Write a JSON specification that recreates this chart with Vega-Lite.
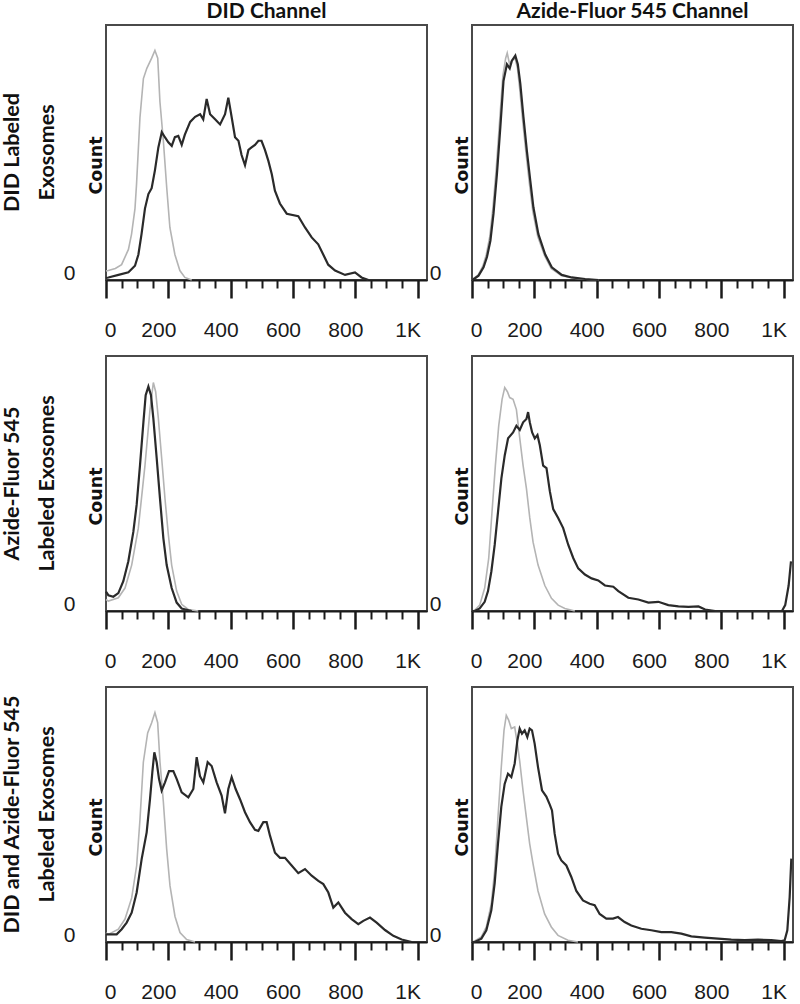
{
  "$schema": "https://vega.github.io/schema/vega-lite/v6.json",
  "padding": {"left": 1, "top": 1, "right": 0, "bottom": 0},
  "background": "white",
  "data": {"values": [
    {"r":"A","c":"D","s":"g","x":0,"y":3.5},{"r":"A","c":"D","s":"g","x":7.5,"y":3.7},{"r":"A","c":"D","s":"g","x":30,"y":4.5},{"r":"A","c":"D","s":"g","x":50,"y":6},{"r":"A","c":"D","s":"g","x":72,"y":12},{"r":"A","c":"D","s":"g","x":82,"y":18},{"r":"A","c":"D","s":"g","x":93,"y":28},{"r":"A","c":"D","s":"g","x":98,"y":37.6},{"r":"A","c":"D","s":"g","x":109,"y":63.7},{"r":"A","c":"D","s":"g","x":120,"y":79},{"r":"A","c":"D","s":"g","x":131,"y":83},{"r":"A","c":"D","s":"g","x":146.5,"y":87},{"r":"A","c":"D","s":"g","x":157,"y":90},{"r":"A","c":"D","s":"g","x":166,"y":87},{"r":"A","c":"D","s":"g","x":173,"y":70},{"r":"A","c":"D","s":"g","x":184,"y":54.6},{"r":"A","c":"D","s":"g","x":195,"y":36},{"r":"A","c":"D","s":"g","x":205,"y":20.6},{"r":"A","c":"D","s":"g","x":221,"y":10},{"r":"A","c":"D","s":"g","x":237,"y":3.7},{"r":"A","c":"D","s":"g","x":253,"y":1},{"r":"A","c":"D","s":"g","x":275,"y":0},
    {"r":"A","c":"D","s":"k","x":0,"y":0.8},{"r":"A","c":"D","s":"k","x":7.5,"y":1},{"r":"A","c":"D","s":"k","x":40,"y":2},{"r":"A","c":"D","s":"k","x":72,"y":3},{"r":"A","c":"D","s":"k","x":93,"y":5.6},{"r":"A","c":"D","s":"k","x":104,"y":10},{"r":"A","c":"D","s":"k","x":114,"y":18},{"r":"A","c":"D","s":"k","x":125,"y":28},{"r":"A","c":"D","s":"k","x":136,"y":33.7},{"r":"A","c":"D","s":"k","x":146.5,"y":36},{"r":"A","c":"D","s":"k","x":157,"y":43},{"r":"A","c":"D","s":"k","x":168,"y":52},{"r":"A","c":"D","s":"k","x":179,"y":58},{"r":"A","c":"D","s":"k","x":189,"y":56},{"r":"A","c":"D","s":"k","x":200,"y":54},{"r":"A","c":"D","s":"k","x":211,"y":52.6},{"r":"A","c":"D","s":"k","x":221,"y":56},{"r":"A","c":"D","s":"k","x":232,"y":56.5},{"r":"A","c":"D","s":"k","x":243,"y":53},{"r":"A","c":"D","s":"k","x":253,"y":57},{"r":"A","c":"D","s":"k","x":270,"y":62},{"r":"A","c":"D","s":"k","x":286,"y":64},{"r":"A","c":"D","s":"k","x":302,"y":65},{"r":"A","c":"D","s":"k","x":312,"y":63},{"r":"A","c":"D","s":"k","x":323,"y":71},{"r":"A","c":"D","s":"k","x":334,"y":65},{"r":"A","c":"D","s":"k","x":350,"y":63},{"r":"A","c":"D","s":"k","x":366,"y":61},{"r":"A","c":"D","s":"k","x":382,"y":65},{"r":"A","c":"D","s":"k","x":392.5,"y":71.5},{"r":"A","c":"D","s":"k","x":403,"y":64},{"r":"A","c":"D","s":"k","x":414,"y":56},{"r":"A","c":"D","s":"k","x":425,"y":54.6},{"r":"A","c":"D","s":"k","x":435,"y":49},{"r":"A","c":"D","s":"k","x":446,"y":45},{"r":"A","c":"D","s":"k","x":457,"y":51},{"r":"A","c":"D","s":"k","x":467,"y":52},{"r":"A","c":"D","s":"k","x":478,"y":53},{"r":"A","c":"D","s":"k","x":489,"y":54.6},{"r":"A","c":"D","s":"k","x":499,"y":54.6},{"r":"A","c":"D","s":"k","x":510,"y":51},{"r":"A","c":"D","s":"k","x":521,"y":46.7},{"r":"A","c":"D","s":"k","x":532,"y":41.5},{"r":"A","c":"D","s":"k","x":542,"y":35},{"r":"A","c":"D","s":"k","x":558,"y":30},{"r":"A","c":"D","s":"k","x":580,"y":26},{"r":"A","c":"D","s":"k","x":617,"y":25},{"r":"A","c":"D","s":"k","x":638.5,"y":20.6},{"r":"A","c":"D","s":"k","x":660,"y":16.7},{"r":"A","c":"D","s":"k","x":681,"y":14},{"r":"A","c":"D","s":"k","x":697,"y":10},{"r":"A","c":"D","s":"k","x":713,"y":6},{"r":"A","c":"D","s":"k","x":735,"y":3.7},{"r":"A","c":"D","s":"k","x":767,"y":2},{"r":"A","c":"D","s":"k","x":799,"y":3},{"r":"A","c":"D","s":"k","x":820,"y":1},{"r":"A","c":"D","s":"k","x":842,"y":0},
    {"r":"A","c":"F","s":"g","x":0,"y":0},{"r":"A","c":"F","s":"g","x":10,"y":1},{"r":"A","c":"F","s":"g","x":20,"y":2},{"r":"A","c":"F","s":"g","x":35,"y":5.5},{"r":"A","c":"F","s":"g","x":46,"y":10},{"r":"A","c":"F","s":"g","x":57,"y":17},{"r":"A","c":"F","s":"g","x":67,"y":28},{"r":"A","c":"F","s":"g","x":78,"y":44},{"r":"A","c":"F","s":"g","x":89,"y":63},{"r":"A","c":"F","s":"g","x":99,"y":80},{"r":"A","c":"F","s":"g","x":108,"y":87},{"r":"A","c":"F","s":"g","x":113,"y":89},{"r":"A","c":"F","s":"g","x":120,"y":85},{"r":"A","c":"F","s":"g","x":128,"y":86},{"r":"A","c":"F","s":"g","x":138,"y":87},{"r":"A","c":"F","s":"g","x":146,"y":83},{"r":"A","c":"F","s":"g","x":153,"y":75},{"r":"A","c":"F","s":"g","x":163,"y":62},{"r":"A","c":"F","s":"g","x":174,"y":49},{"r":"A","c":"F","s":"g","x":185,"y":37},{"r":"A","c":"F","s":"g","x":195,"y":27},{"r":"A","c":"F","s":"g","x":211,"y":17},{"r":"A","c":"F","s":"g","x":233,"y":9.5},{"r":"A","c":"F","s":"g","x":254,"y":4.5},{"r":"A","c":"F","s":"g","x":286,"y":1.8},{"r":"A","c":"F","s":"g","x":320,"y":0.8},{"r":"A","c":"F","s":"g","x":363,"y":0.3},{"r":"A","c":"F","s":"g","x":406,"y":0},
    {"r":"A","c":"F","s":"k","x":0,"y":0},{"r":"A","c":"F","s":"k","x":10.7,"y":0.8},{"r":"A","c":"F","s":"k","x":21,"y":1.7},{"r":"A","c":"F","s":"k","x":37,"y":5},{"r":"A","c":"F","s":"k","x":48,"y":9},{"r":"A","c":"F","s":"k","x":59,"y":15.4},{"r":"A","c":"F","s":"k","x":69,"y":26},{"r":"A","c":"F","s":"k","x":80,"y":41.5},{"r":"A","c":"F","s":"k","x":91,"y":60},{"r":"A","c":"F","s":"k","x":101,"y":78},{"r":"A","c":"F","s":"k","x":112,"y":84.6},{"r":"A","c":"F","s":"k","x":121,"y":83},{"r":"A","c":"F","s":"k","x":128,"y":86},{"r":"A","c":"F","s":"k","x":139,"y":88},{"r":"A","c":"F","s":"k","x":147,"y":84.6},{"r":"A","c":"F","s":"k","x":155,"y":77},{"r":"A","c":"F","s":"k","x":165,"y":64},{"r":"A","c":"F","s":"k","x":176,"y":50.7},{"r":"A","c":"F","s":"k","x":187,"y":39},{"r":"A","c":"F","s":"k","x":197,"y":28.5},{"r":"A","c":"F","s":"k","x":213,"y":18},{"r":"A","c":"F","s":"k","x":235,"y":10},{"r":"A","c":"F","s":"k","x":256,"y":5},{"r":"A","c":"F","s":"k","x":288,"y":2},{"r":"A","c":"F","s":"k","x":320,"y":1},{"r":"A","c":"F","s":"k","x":363,"y":0.4},{"r":"A","c":"F","s":"k","x":406,"y":0},
    {"r":"B","c":"D","s":"g","x":0,"y":4.5},{"r":"B","c":"D","s":"g","x":7.5,"y":3.9},{"r":"B","c":"D","s":"g","x":39.6,"y":5.2},{"r":"B","c":"D","s":"g","x":61,"y":9},{"r":"B","c":"D","s":"g","x":82.4,"y":18},{"r":"B","c":"D","s":"g","x":103.7,"y":32.5},{"r":"B","c":"D","s":"g","x":125,"y":57},{"r":"B","c":"D","s":"g","x":141.2,"y":79},{"r":"B","c":"D","s":"g","x":151.9,"y":89.6},{"r":"B","c":"D","s":"g","x":159.4,"y":86},{"r":"B","c":"D","s":"g","x":168,"y":75.5},{"r":"B","c":"D","s":"g","x":178.6,"y":60},{"r":"B","c":"D","s":"g","x":189.3,"y":44},{"r":"B","c":"D","s":"g","x":200,"y":30},{"r":"B","c":"D","s":"g","x":210.7,"y":18},{"r":"B","c":"D","s":"g","x":226.7,"y":7.8},{"r":"B","c":"D","s":"g","x":242.8,"y":2.6},{"r":"B","c":"D","s":"g","x":264,"y":0.6},{"r":"B","c":"D","s":"g","x":296,"y":0},
    {"r":"B","c":"D","s":"k","x":0,"y":7.6},{"r":"B","c":"D","s":"k","x":7.5,"y":6.2},{"r":"B","c":"D","s":"k","x":23.5,"y":5.6},{"r":"B","c":"D","s":"k","x":39.6,"y":7},{"r":"B","c":"D","s":"k","x":55.6,"y":11.7},{"r":"B","c":"D","s":"k","x":71.7,"y":19.5},{"r":"B","c":"D","s":"k","x":87.7,"y":31},{"r":"B","c":"D","s":"k","x":98.4,"y":41.7},{"r":"B","c":"D","s":"k","x":109,"y":57},{"r":"B","c":"D","s":"k","x":120,"y":74},{"r":"B","c":"D","s":"k","x":127.3,"y":84.6},{"r":"B","c":"D","s":"k","x":136,"y":88},{"r":"B","c":"D","s":"k","x":144.4,"y":84.6},{"r":"B","c":"D","s":"k","x":151.9,"y":75.5},{"r":"B","c":"D","s":"k","x":162.6,"y":60},{"r":"B","c":"D","s":"k","x":173.3,"y":44},{"r":"B","c":"D","s":"k","x":184,"y":28.6},{"r":"B","c":"D","s":"k","x":194.7,"y":18},{"r":"B","c":"D","s":"k","x":210.7,"y":9},{"r":"B","c":"D","s":"k","x":226.7,"y":3.3},{"r":"B","c":"D","s":"k","x":242.8,"y":1},{"r":"B","c":"D","s":"k","x":275,"y":0},
    {"r":"B","c":"F","s":"g","x":0,"y":0},{"r":"B","c":"F","s":"g","x":8.6,"y":0.3},{"r":"B","c":"F","s":"g","x":24.7,"y":2.3},{"r":"B","c":"F","s":"g","x":40.7,"y":9},{"r":"B","c":"F","s":"g","x":53.6,"y":20.6},{"r":"B","c":"F","s":"g","x":64.3,"y":39},{"r":"B","c":"F","s":"g","x":75,"y":57},{"r":"B","c":"F","s":"g","x":85.7,"y":72.6},{"r":"B","c":"F","s":"g","x":96.5,"y":83},{"r":"B","c":"F","s":"g","x":105,"y":87.6},{"r":"B","c":"F","s":"g","x":113.6,"y":86},{"r":"B","c":"F","s":"g","x":121,"y":83.7},{"r":"B","c":"F","s":"g","x":131.8,"y":83},{"r":"B","c":"F","s":"g","x":142.5,"y":79},{"r":"B","c":"F","s":"g","x":153.3,"y":67.7},{"r":"B","c":"F","s":"g","x":164,"y":57},{"r":"B","c":"F","s":"g","x":174.7,"y":48},{"r":"B","c":"F","s":"g","x":185.4,"y":36.5},{"r":"B","c":"F","s":"g","x":196,"y":27},{"r":"B","c":"F","s":"g","x":212,"y":18},{"r":"B","c":"F","s":"g","x":233.7,"y":10},{"r":"B","c":"F","s":"g","x":255,"y":5},{"r":"B","c":"F","s":"g","x":276.5,"y":2.3},{"r":"B","c":"F","s":"g","x":298,"y":1},{"r":"B","c":"F","s":"g","x":330,"y":0},
    {"r":"B","c":"F","s":"k","x":0,"y":0},{"r":"B","c":"F","s":"k","x":8.6,"y":0},{"r":"B","c":"F","s":"k","x":24.7,"y":1},{"r":"B","c":"F","s":"k","x":40.7,"y":3.6},{"r":"B","c":"F","s":"k","x":51.4,"y":7.8},{"r":"B","c":"F","s":"k","x":62.2,"y":15.6},{"r":"B","c":"F","s":"k","x":72.9,"y":26},{"r":"B","c":"F","s":"k","x":83.6,"y":39},{"r":"B","c":"F","s":"k","x":94.3,"y":52},{"r":"B","c":"F","s":"k","x":105,"y":61},{"r":"B","c":"F","s":"k","x":115.8,"y":67.7},{"r":"B","c":"F","s":"k","x":131.8,"y":70},{"r":"B","c":"F","s":"k","x":142.5,"y":72.6},{"r":"B","c":"F","s":"k","x":153.3,"y":71},{"r":"B","c":"F","s":"k","x":164,"y":74},{"r":"B","c":"F","s":"k","x":174.7,"y":75.3},{"r":"B","c":"F","s":"k","x":180,"y":78},{"r":"B","c":"F","s":"k","x":185.4,"y":74},{"r":"B","c":"F","s":"k","x":193,"y":70},{"r":"B","c":"F","s":"k","x":201.5,"y":67.7},{"r":"B","c":"F","s":"k","x":210,"y":69},{"r":"B","c":"F","s":"k","x":217.6,"y":65},{"r":"B","c":"F","s":"k","x":228.3,"y":57},{"r":"B","c":"F","s":"k","x":239,"y":56},{"r":"B","c":"F","s":"k","x":249.7,"y":47},{"r":"B","c":"F","s":"k","x":260.5,"y":40},{"r":"B","c":"F","s":"k","x":276.5,"y":36.5},{"r":"B","c":"F","s":"k","x":292.6,"y":32.5},{"r":"B","c":"F","s":"k","x":308.7,"y":26},{"r":"B","c":"F","s":"k","x":324.8,"y":20.8},{"r":"B","c":"F","s":"k","x":340.8,"y":16.7},{"r":"B","c":"F","s":"k","x":362.3,"y":14.3},{"r":"B","c":"F","s":"k","x":383.7,"y":12.8},{"r":"B","c":"F","s":"k","x":405,"y":12},{"r":"B","c":"F","s":"k","x":426.6,"y":10},{"r":"B","c":"F","s":"k","x":453.4,"y":9.5},{"r":"B","c":"F","s":"k","x":469.5,"y":7.8},{"r":"B","c":"F","s":"k","x":501.6,"y":5.2},{"r":"B","c":"F","s":"k","x":533.8,"y":4.5},{"r":"B","c":"F","s":"k","x":566,"y":3.3},{"r":"B","c":"F","s":"k","x":598,"y":3.6},{"r":"B","c":"F","s":"k","x":630,"y":2.3},{"r":"B","c":"F","s":"k","x":662.4,"y":1.8},{"r":"B","c":"F","s":"k","x":694.5,"y":1.6},{"r":"B","c":"F","s":"k","x":726.7,"y":1.8},{"r":"B","c":"F","s":"k","x":748,"y":0.6},{"r":"B","c":"F","s":"k","x":780,"y":0},{"r":"B","c":"F","s":"k","x":994.6,"y":0},{"r":"B","c":"F","s":"k","x":1005,"y":2.3},{"r":"B","c":"F","s":"k","x":1016,"y":10},{"r":"B","c":"F","s":"k","x":1023.5,"y":19.5},
    {"r":"C","c":"D","s":"g","x":0,"y":3.5},{"r":"C","c":"D","s":"g","x":7.5,"y":3},{"r":"C","c":"D","s":"g","x":39.6,"y":5},{"r":"C","c":"D","s":"g","x":61,"y":9},{"r":"C","c":"D","s":"g","x":82.4,"y":17.3},{"r":"C","c":"D","s":"g","x":98.4,"y":30},{"r":"C","c":"D","s":"g","x":109,"y":48},{"r":"C","c":"D","s":"g","x":119.8,"y":70.5},{"r":"C","c":"D","s":"g","x":133.7,"y":82},{"r":"C","c":"D","s":"g","x":146.5,"y":86},{"r":"C","c":"D","s":"g","x":157,"y":90},{"r":"C","c":"D","s":"g","x":165.8,"y":86},{"r":"C","c":"D","s":"g","x":173.3,"y":70.5},{"r":"C","c":"D","s":"g","x":184,"y":55},{"r":"C","c":"D","s":"g","x":194.7,"y":36.4},{"r":"C","c":"D","s":"g","x":205.4,"y":22},{"r":"C","c":"D","s":"g","x":221.4,"y":10},{"r":"C","c":"D","s":"g","x":237.4,"y":3.7},{"r":"C","c":"D","s":"g","x":258.8,"y":1},{"r":"C","c":"D","s":"g","x":285.6,"y":0},
    {"r":"C","c":"D","s":"k","x":0,"y":3},{"r":"C","c":"D","s":"k","x":34.2,"y":3},{"r":"C","c":"D","s":"k","x":50.3,"y":5},{"r":"C","c":"D","s":"k","x":66.3,"y":7.6},{"r":"C","c":"D","s":"k","x":82.4,"y":11.5},{"r":"C","c":"D","s":"k","x":98.4,"y":19.4},{"r":"C","c":"D","s":"k","x":114.4,"y":32.5},{"r":"C","c":"D","s":"k","x":130.5,"y":43},{"r":"C","c":"D","s":"k","x":141.2,"y":56},{"r":"C","c":"D","s":"k","x":148.7,"y":66.6},{"r":"C","c":"D","s":"k","x":155.1,"y":74.4},{"r":"C","c":"D","s":"k","x":162.6,"y":70.5},{"r":"C","c":"D","s":"k","x":170,"y":64},{"r":"C","c":"D","s":"k","x":178.6,"y":59.4},{"r":"C","c":"D","s":"k","x":189.3,"y":62.6},{"r":"C","c":"D","s":"k","x":202.1,"y":67},{"r":"C","c":"D","s":"k","x":216,"y":67},{"r":"C","c":"D","s":"k","x":226.7,"y":64},{"r":"C","c":"D","s":"k","x":242.8,"y":58.7},{"r":"C","c":"D","s":"k","x":264.2,"y":56.7},{"r":"C","c":"D","s":"k","x":280.2,"y":60},{"r":"C","c":"D","s":"k","x":291,"y":72.5},{"r":"C","c":"D","s":"k","x":301.6,"y":65},{"r":"C","c":"D","s":"k","x":312.3,"y":62.6},{"r":"C","c":"D","s":"k","x":326.2,"y":70.5},{"r":"C","c":"D","s":"k","x":339,"y":69},{"r":"C","c":"D","s":"k","x":355,"y":62.6},{"r":"C","c":"D","s":"k","x":371,"y":57.4},{"r":"C","c":"D","s":"k","x":381.8,"y":50.5},{"r":"C","c":"D","s":"k","x":392.5,"y":60},{"r":"C","c":"D","s":"k","x":403.2,"y":64.6},{"r":"C","c":"D","s":"k","x":416,"y":60},{"r":"C","c":"D","s":"k","x":430,"y":56},{"r":"C","c":"D","s":"k","x":446,"y":50.9},{"r":"C","c":"D","s":"k","x":462,"y":47},{"r":"C","c":"D","s":"k","x":478,"y":44},{"r":"C","c":"D","s":"k","x":488.8,"y":43.6},{"r":"C","c":"D","s":"k","x":504.8,"y":47},{"r":"C","c":"D","s":"k","x":515.5,"y":47},{"r":"C","c":"D","s":"k","x":526.2,"y":41.7},{"r":"C","c":"D","s":"k","x":542.2,"y":35},{"r":"C","c":"D","s":"k","x":558.3,"y":33},{"r":"C","c":"D","s":"k","x":574.3,"y":33},{"r":"C","c":"D","s":"k","x":595.7,"y":30},{"r":"C","c":"D","s":"k","x":617,"y":27},{"r":"C","c":"D","s":"k","x":638.5,"y":28.6},{"r":"C","c":"D","s":"k","x":660,"y":26},{"r":"C","c":"D","s":"k","x":681.3,"y":24},{"r":"C","c":"D","s":"k","x":697.3,"y":22.7},{"r":"C","c":"D","s":"k","x":713.4,"y":19.4},{"r":"C","c":"D","s":"k","x":729.4,"y":13.5},{"r":"C","c":"D","s":"k","x":745.5,"y":15.5},{"r":"C","c":"D","s":"k","x":766.8,"y":11.5},{"r":"C","c":"D","s":"k","x":788.2,"y":9},{"r":"C","c":"D","s":"k","x":809.6,"y":7},{"r":"C","c":"D","s":"k","x":825.7,"y":8.3},{"r":"C","c":"D","s":"k","x":847,"y":9.6},{"r":"C","c":"D","s":"k","x":868.4,"y":7.6},{"r":"C","c":"D","s":"k","x":895.2,"y":4.7},{"r":"C","c":"D","s":"k","x":922,"y":2.4},{"r":"C","c":"D","s":"k","x":948.7,"y":1},{"r":"C","c":"D","s":"k","x":980.7,"y":0},
    {"r":"C","c":"F","s":"g","x":0,"y":0},{"r":"C","c":"F","s":"g","x":8.6,"y":0.4},{"r":"C","c":"F","s":"g","x":30,"y":2},{"r":"C","c":"F","s":"g","x":46,"y":5.9},{"r":"C","c":"F","s":"g","x":62,"y":15},{"r":"C","c":"F","s":"g","x":72.7,"y":28},{"r":"C","c":"F","s":"g","x":83.4,"y":49},{"r":"C","c":"F","s":"g","x":94,"y":68.6},{"r":"C","c":"F","s":"g","x":102.7,"y":83},{"r":"C","c":"F","s":"g","x":110,"y":88.9},{"r":"C","c":"F","s":"g","x":117.6,"y":87},{"r":"C","c":"F","s":"g","x":126.2,"y":83.7},{"r":"C","c":"F","s":"g","x":137,"y":84.3},{"r":"C","c":"F","s":"g","x":145.5,"y":77.8},{"r":"C","c":"F","s":"g","x":153,"y":71},{"r":"C","c":"F","s":"g","x":163.6,"y":59.5},{"r":"C","c":"F","s":"g","x":174.3,"y":49},{"r":"C","c":"F","s":"g","x":185,"y":38.6},{"r":"C","c":"F","s":"g","x":195.7,"y":30.7},{"r":"C","c":"F","s":"g","x":211.8,"y":20},{"r":"C","c":"F","s":"g","x":233,"y":11},{"r":"C","c":"F","s":"g","x":254.5,"y":5.9},{"r":"C","c":"F","s":"g","x":276,"y":2.6},{"r":"C","c":"F","s":"g","x":308,"y":0.7},{"r":"C","c":"F","s":"g","x":340,"y":0},
    {"r":"C","c":"F","s":"k","x":0,"y":0},{"r":"C","c":"F","s":"k","x":8.6,"y":0},{"r":"C","c":"F","s":"k","x":30,"y":1.3},{"r":"C","c":"F","s":"k","x":46,"y":4.6},{"r":"C","c":"F","s":"k","x":62,"y":12.4},{"r":"C","c":"F","s":"k","x":72.7,"y":23},{"r":"C","c":"F","s":"k","x":83.4,"y":38.6},{"r":"C","c":"F","s":"k","x":94,"y":53},{"r":"C","c":"F","s":"k","x":104.8,"y":62},{"r":"C","c":"F","s":"k","x":115.5,"y":66},{"r":"C","c":"F","s":"k","x":126.2,"y":64.7},{"r":"C","c":"F","s":"k","x":137,"y":70},{"r":"C","c":"F","s":"k","x":145.5,"y":79},{"r":"C","c":"F","s":"k","x":153,"y":83.7},{"r":"C","c":"F","s":"k","x":160.4,"y":81.7},{"r":"C","c":"F","s":"k","x":169,"y":83},{"r":"C","c":"F","s":"k","x":177.5,"y":80.4},{"r":"C","c":"F","s":"k","x":185,"y":83.7},{"r":"C","c":"F","s":"k","x":192.5,"y":83},{"r":"C","c":"F","s":"k","x":201,"y":77.8},{"r":"C","c":"F","s":"k","x":211.8,"y":68.6},{"r":"C","c":"F","s":"k","x":224.6,"y":59.5},{"r":"C","c":"F","s":"k","x":238.5,"y":57},{"r":"C","c":"F","s":"k","x":249.2,"y":54},{"r":"C","c":"F","s":"k","x":256.7,"y":51.6},{"r":"C","c":"F","s":"k","x":265.2,"y":42.5},{"r":"C","c":"F","s":"k","x":276,"y":34.6},{"r":"C","c":"F","s":"k","x":286.6,"y":32},{"r":"C","c":"F","s":"k","x":302.7,"y":30},{"r":"C","c":"F","s":"k","x":318.7,"y":25.5},{"r":"C","c":"F","s":"k","x":334.8,"y":20},{"r":"C","c":"F","s":"k","x":356,"y":16.3},{"r":"C","c":"F","s":"k","x":377.5,"y":15},{"r":"C","c":"F","s":"k","x":393.6,"y":14.4},{"r":"C","c":"F","s":"k","x":409.6,"y":11},{"r":"C","c":"F","s":"k","x":431,"y":9.2},{"r":"C","c":"F","s":"k","x":452.4,"y":9.2},{"r":"C","c":"F","s":"k","x":468.4,"y":9.8},{"r":"C","c":"F","s":"k","x":489.8,"y":7.8},{"r":"C","c":"F","s":"k","x":511.2,"y":6.5},{"r":"C","c":"F","s":"k","x":543.3,"y":5.2},{"r":"C","c":"F","s":"k","x":575.4,"y":4.6},{"r":"C","c":"F","s":"k","x":607.5,"y":3.9},{"r":"C","c":"F","s":"k","x":639.6,"y":3.9},{"r":"C","c":"F","s":"k","x":671.7,"y":3.3},{"r":"C","c":"F","s":"k","x":703.7,"y":2.2},{"r":"C","c":"F","s":"k","x":746.5,"y":1.7},{"r":"C","c":"F","s":"k","x":789.3,"y":1.3},{"r":"C","c":"F","s":"k","x":832,"y":0.9},{"r":"C","c":"F","s":"k","x":874.9,"y":0.7},{"r":"C","c":"F","s":"k","x":917.6,"y":0.9},{"r":"C","c":"F","s":"k","x":960.4,"y":0.7},{"r":"C","c":"F","s":"k","x":992.5,"y":0.4},{"r":"C","c":"F","s":"k","x":1003.2,"y":0.7},{"r":"C","c":"F","s":"k","x":1011.8,"y":4.6},{"r":"C","c":"F","s":"k","x":1019.3,"y":17.6},{"r":"C","c":"F","s":"k","x":1024.6,"y":32.7}
  ]},
  "facet": {
    "row": {"field": "r", "type": "nominal", "title": null,
      "header": {"labelExpr": "datum.value == 'A' ? ['DID Labeled', 'Exosomes'] : datum.value == 'B' ? ['Azide-Fluor 545', 'Labeled Exosomes'] : ['DID and Azide-Fluor 545', 'Labeled Exosomes']",
        "labelFont": "Lato", "labelFontWeight": "bold", "labelFontSize": 21.5, "labelLineHeight": 35, "labelAngle": -90, "labelPadding": 37, "labelColor": "#111111"}},
    "column": {"field": "c", "type": "nominal", "title": null,
      "header": {"labelExpr": "datum.value == 'D' ? 'DID Channel' : 'Azide-Fluor 545 Channel'",
        "labelFont": "Lato", "labelFontWeight": "bold", "labelFontSize": 21, "labelPadding": 3, "labelColor": "#111111"}}
  },
  "spacing": {"row": 76, "column": 45},
  "bounds": "flush",
  "resolve": {"axis": {"x": "independent", "y": "independent"}},
  "spec": {
    "width": 321,
    "height": 255,
    "encoding": {
      "x": {"field": "x", "type": "quantitative", "scale": {"domain": [0, 1030], "nice": false, "zero": false},
        "axis": {"title": null, "grid": false,
          "values": [0,50,100,150,200,250,300,350,400,450,500,550,600,650,700,750,800,850,900,950,1000],
          "labelExpr": "datum.value % 200 == 0 ? (datum.value == 1000 ? '1K' : '' + datum.value) : ''",
          "tickSize": {"condition": {"test": "datum.value % 200 == 0", "value": 18}, "value": 8},
          "tickWidth": {"condition": {"test": "datum.value % 200 == 0", "value": 2.5}, "value": 2},
          "tickColor": "#1a1a1a", "domainColor": "#1a1a1a", "domainWidth": 2,
          "labelFont": "Liberation Sans", "labelFontSize": 21, "labelColor": "#1a1a1a",
          "labelPadding": 21, "labelFlush": false, "labelOverlap": false,
          "labelOffset": {"condition": {"test": "datum.value == 0", "value": 4}, "value": -10}}},
      "y": {"field": "y", "type": "quantitative", "scale": {"domain": [0, 100], "nice": false},
        "axis": {"title": "Count", "grid": false, "values": [0], "domain": false, "ticks": false,
          "labelFont": "Liberation Sans", "labelFontSize": 21, "labelColor": "#1a1a1a", "labelPadding": 31, "labelBaseline": "alphabetic", "labelOffset": -1,
          "titleFont": "DejaVu Sans", "titleFontWeight": "bold", "titleFontSize": 17.5, "titleColor": "#111111",
          "titleAngle": -90, "titleX": -5, "titleY": 140, "titleAlign": "center", "titleBaseline": "alphabetic"}}
    },
    "layer": [
      {"transform": [{"filter": "datum.s == 'g'"}], "mark": {"type": "line", "color": "#b4b4b4", "strokeWidth": 1.6}},
      {"transform": [{"filter": "datum.s == 'k'"}], "mark": {"type": "line", "color": "#2a2a2a", "strokeWidth": 2.2}},
      {"transform": [{"aggregate": [{"op": "count", "as": "n"}], "groupby": ["r", "c"]}],
        "mark": {"type": "rule", "color": "#1a1a1a", "strokeWidth": 2},
        "encoding": {"x": {"datum": -58, "type": "quantitative"}, "x2": {"datum": 0}, "y": {"datum": 0, "type": "quantitative"}}}
    ]
  },
  "config": {
    "view": {"stroke": "#4a4a4a", "strokeWidth": 2}
  }
}
